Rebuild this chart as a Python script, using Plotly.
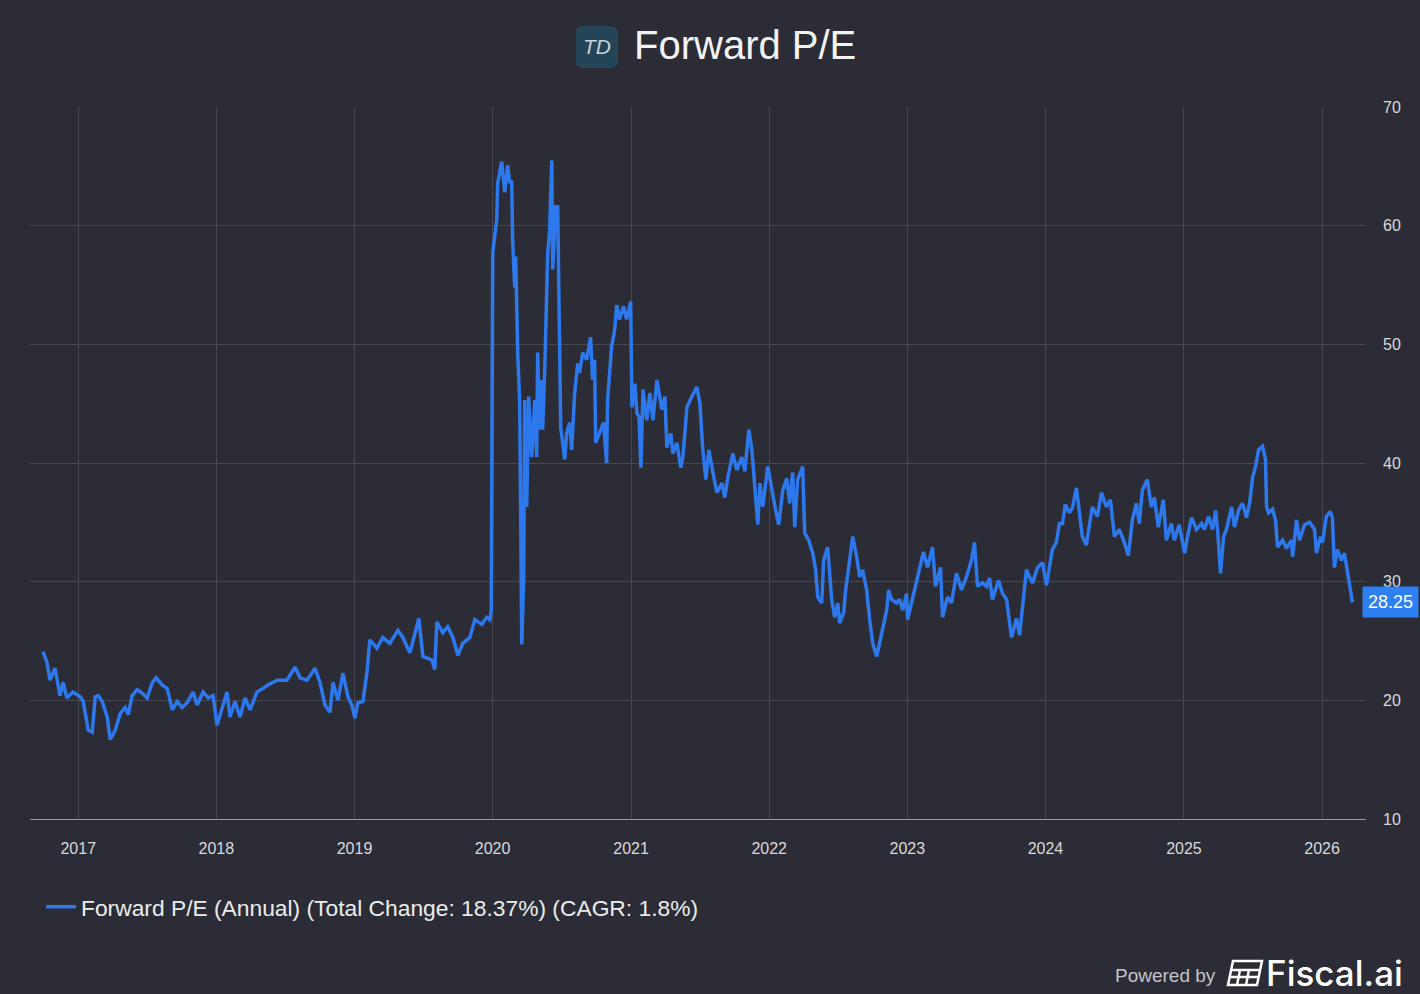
import math
import pandas as pd
import plotly.graph_objects as go

# ---- data ----
year_frac = [
    2016.747, 2016.776, 2016.798, 2016.834, 2016.870, 2016.892, 2016.920, 2016.964,
    2017.014, 2017.036, 2017.072, 2017.101, 2017.123, 2017.145, 2017.174, 2017.210,
    2017.231, 2017.268, 2017.304, 2017.340, 2017.362, 2017.390, 2017.427, 2017.463,
    2017.499, 2017.535, 2017.564, 2017.607, 2017.644, 2017.680, 2017.716, 2017.752,
    2017.788, 2017.832, 2017.860, 2017.904, 2017.940, 2017.976,
    2018.005, 2018.041, 2018.077, 2018.099, 2018.135, 2018.171, 2018.208, 2018.244,
    2018.294, 2018.338, 2018.374, 2018.439, 2018.511, 2018.569, 2018.605, 2018.656,
    2018.714, 2018.750, 2018.786, 2018.822, 2018.844, 2018.880, 2018.916, 2018.952,
    2018.981,
    2019.003, 2019.025, 2019.061, 2019.090, 2019.111, 2019.162, 2019.205, 2019.256,
    2019.314, 2019.350, 2019.401, 2019.437, 2019.466, 2019.495, 2019.560, 2019.581,
    2019.596, 2019.639, 2019.675, 2019.712, 2019.748, 2019.784, 2019.835, 2019.871,
    2019.921, 2019.957, 2019.979, 2019.990, 2019.998,
    2020.001, 2020.030, 2020.037, 2020.066, 2020.088, 2020.109, 2020.124, 2020.138,
    2020.145, 2020.160, 2020.167, 2020.182, 2020.196, 2020.211, 2020.225, 2020.232,
    2020.247, 2020.261, 2020.283, 2020.305, 2020.319, 2020.326, 2020.341, 2020.355,
    2020.362, 2020.377, 2020.399, 2020.413, 2020.428, 2020.435, 2020.456, 2020.471,
    2020.478, 2020.493, 2020.522, 2020.536, 2020.558, 2020.572, 2020.594, 2020.616,
    2020.630, 2020.652, 2020.681, 2020.709, 2020.724, 2020.738, 2020.746, 2020.775,
    2020.803, 2020.825, 2020.832, 2020.861, 2020.883, 2020.898, 2020.919, 2020.948,
    2020.970, 2020.999,
    2021.006, 2021.028, 2021.042, 2021.057, 2021.071, 2021.086, 2021.114, 2021.136,
    2021.158, 2021.187, 2021.223, 2021.245, 2021.259, 2021.288, 2021.302, 2021.331,
    2021.360, 2021.375, 2021.404, 2021.440, 2021.476, 2021.498, 2021.519, 2021.541,
    2021.563, 2021.592, 2021.621, 2021.657, 2021.678, 2021.700, 2021.736, 2021.765,
    2021.801, 2021.823, 2021.852, 2021.874, 2021.895, 2021.917, 2021.932, 2021.953,
    2021.989,
    2022.018, 2022.047, 2022.069, 2022.098, 2022.127, 2022.148, 2022.170, 2022.185,
    2022.206, 2022.242, 2022.257, 2022.286, 2022.315, 2022.336, 2022.351, 2022.380,
    2022.394, 2022.423, 2022.452, 2022.474, 2022.496, 2022.510, 2022.539, 2022.553,
    2022.575, 2022.604, 2022.633, 2022.655, 2022.676, 2022.705, 2022.727, 2022.749,
    2022.778, 2022.806, 2022.828, 2022.850, 2022.864, 2022.886, 2022.922, 2022.944,
    2022.966, 2022.994,
    2023.002, 2023.038, 2023.067, 2023.089, 2023.117, 2023.146, 2023.182, 2023.204,
    2023.240, 2023.255, 2023.291, 2023.320, 2023.356, 2023.392, 2023.428, 2023.464,
    2023.486, 2023.508, 2023.544, 2023.573, 2023.595, 2023.616, 2023.660, 2023.689,
    2023.718, 2023.754, 2023.790, 2023.812, 2023.833, 2023.862, 2023.884, 2023.906,
    2023.942, 2023.978,
    2024.007, 2024.029, 2024.050, 2024.079, 2024.101, 2024.123, 2024.144, 2024.173,
    2024.195, 2024.224, 2024.245, 2024.267, 2024.296, 2024.318, 2024.339, 2024.376,
    2024.405, 2024.441, 2024.470, 2024.499, 2024.535, 2024.571, 2024.600, 2024.629,
    2024.658, 2024.679, 2024.701, 2024.737, 2024.766, 2024.788, 2024.817, 2024.853,
    2024.875, 2024.911, 2024.932, 2024.968,
    2025.005, 2025.026, 2025.055, 2025.091, 2025.128, 2025.149, 2025.178, 2025.207,
    2025.229, 2025.243, 2025.265, 2025.287, 2025.308, 2025.345, 2025.366, 2025.395,
    2025.424, 2025.453, 2025.475, 2025.497, 2025.518, 2025.540, 2025.569, 2025.590,
    2025.598, 2025.612, 2025.641, 2025.663, 2025.677, 2025.714, 2025.742, 2025.778,
    2025.786, 2025.815, 2025.836, 2025.873, 2025.909, 2025.945, 2025.959, 2025.988,
    2026.003, 2026.031, 2026.060, 2026.075, 2026.089, 2026.111, 2026.140, 2026.162,
    2026.183, 2026.198, 2026.220,
]

forward_pe = [
    24.1, 23.2, 21.7, 22.7, 20.4, 21.5, 20.2, 20.7,
    20.3, 19.9, 17.5, 17.3, 20.3, 20.4, 19.9, 18.6,
    16.7, 17.5, 18.9, 19.4, 18.8, 20.4, 20.9, 20.6,
    20.2, 21.5, 21.9, 21.3, 21.0, 19.2, 19.9, 19.4,
    19.8, 20.7, 19.6, 20.7, 20.2, 20.4,
    17.9, 19.4, 20.7, 18.6, 19.9, 18.6, 20.2, 19.2,
    20.7, 21.0, 21.3, 21.7, 21.7, 22.8, 21.9, 21.7,
    22.7, 21.5, 19.6, 19.0, 21.5, 20.0, 22.3, 20.3,
    19.6,
    18.5, 19.8, 19.9, 22.3, 25.1, 24.4, 25.3, 24.8,
    25.9, 25.3, 24.0, 25.5, 26.9, 23.7, 23.4, 22.6,
    26.6, 25.7, 26.2, 25.3, 23.8, 24.8, 25.3, 26.8,
    26.4, 27.0, 26.8, 27.5, 56.0,
    57.7, 60.5, 63.6, 65.4, 62.8, 65.1, 63.6, 63.8,
    58.8, 54.8, 57.4, 49.2, 45.1, 24.7, 30.1, 45.3,
    36.3, 45.6, 40.5, 45.3, 40.5, 49.3, 42.8, 47.0,
    42.8, 47.8, 57.7, 59.6, 65.5, 56.3, 61.6, 61.6,
    56.0, 43.0, 40.3, 42.5, 43.4, 41.1, 45.9, 48.4,
    47.6, 49.3, 48.7, 50.6, 47.0, 48.7, 41.7, 42.5,
    43.4, 40.0, 45.3, 49.8, 51.2, 53.3, 52.1, 53.2,
    52.1, 53.6,
    44.7, 46.7, 44.2, 43.9, 39.6, 46.2, 43.6, 45.9,
    43.6, 47.0, 44.5, 45.6, 41.3, 42.5, 40.8, 41.7,
    39.6, 40.5, 44.7, 45.6, 46.4, 45.0, 41.1, 38.6,
    41.1, 39.2, 37.5, 38.3, 37.1, 38.8, 40.8, 39.4,
    40.5, 39.3, 42.8, 41.1, 38.0, 34.8, 38.3, 36.3,
    39.7,
    37.7, 36.0, 34.8, 37.7, 38.7, 36.6, 39.2, 34.6,
    38.6, 39.7, 34.1, 33.5, 32.4, 31.0, 28.7, 28.2,
    31.8, 32.9, 28.5, 27.0, 28.2, 26.5, 27.4, 29.3,
    31.2, 33.8, 32.1, 30.4, 31.0, 29.3, 26.8, 24.8,
    23.7, 25.1, 26.5, 27.6, 29.3, 28.5, 28.2, 28.5,
    27.6, 29.0,
    26.8, 28.5, 30.1, 31.0, 32.5, 31.2, 32.9, 29.6,
    31.2, 27.0, 28.7, 28.2, 30.7, 29.3, 30.4, 31.8,
    33.3, 29.6, 29.9, 29.6, 30.3, 28.5, 30.1, 29.0,
    28.5, 25.3, 26.9, 25.5, 27.6, 31.0, 30.4, 29.9,
    31.2, 31.6,
    29.7, 31.2, 32.7, 33.3, 34.9, 34.9, 36.5, 35.8,
    36.2, 37.9, 35.8, 33.8, 33.1, 34.6, 36.3, 35.5,
    37.5, 36.3, 36.9, 33.8, 34.4, 33.3, 32.2, 35.2,
    36.6, 34.9, 37.7, 38.6, 36.3, 37.1, 34.6, 36.9,
    33.5, 34.9, 33.5, 34.8,
    32.4, 33.8, 35.4, 34.4, 34.9, 34.4, 35.5, 34.4,
    36.0, 34.4, 30.7, 33.8, 34.4, 36.3, 34.6, 36.0,
    36.6, 35.4, 36.6, 38.8, 39.7, 41.1, 41.4, 40.3,
    36.3, 35.8, 36.1, 35.2, 32.9, 33.5, 32.8, 33.5,
    32.1, 35.2, 33.5, 34.8, 35.0, 34.4, 32.4, 33.8,
    33.3, 35.5, 35.9, 35.4, 31.2, 32.7, 31.8, 32.4,
    31.0, 29.9, 28.25,
]

series_name = "Forward P/E (Annual) (Total Change: 18.37%) (CAGR: 1.8%)"
title_text = "Forward P/E"
last_label = "28.25"


def to_date(y):
    yr = int(math.floor(y))
    return pd.Timestamp(yr, 1, 1) + pd.Timedelta(days=(y - yr) * 365.25)


dates = [to_date(v) for v in year_frac]

BG = "#2b2c35"
BLUE = "#2c78ec"
GRID = "#474852"
TXT = "#d9d9db"

fig = go.Figure()
fig.add_trace(go.Scatter(
    x=dates, y=forward_pe, mode="lines", name=series_name,
    line=dict(color=BLUE, width=3.5),
))

# geometry of plot area in pixels
L, R, T, B = 30, 1366, 107, 819
W, H = R - L, B - T


def px(x):
    return (x - L) / W


def py(y):
    return (B - y) / H


fig.update_layout(
    width=1420, height=994,
    paper_bgcolor=BG, plot_bgcolor=BG,
    margin=dict(l=L, r=1420 - R, t=T, b=994 - B),
    font=dict(family="Liberation Sans, Arial, sans-serif", color=TXT),
    showlegend=True,
    legend=dict(
        x=px(41), y=py(907), xanchor="left", yanchor="middle",
        orientation="h", bgcolor="rgba(0,0,0,0)",
        font=dict(size=22.8, color="#ececec"),
        itemwidth=30,
    ),
    xaxis=dict(
        type="date",
        range=[to_date(2016.653), to_date(2026.318)],
        tick0="2017-01-01", dtick="M12", tickformat="%Y",
        showgrid=True, gridcolor=GRID, gridwidth=1,
        showline=True, linecolor="#9a9aa0", linewidth=1,
        ticks="", ticklabelstandoff=15,
        tickfont=dict(size=16, color=TXT),
        zeroline=False, fixedrange=True,
    ),
    yaxis=dict(
        range=[10, 70], dtick=10, tick0=10, side="right",
        showgrid=True, gridcolor=GRID, gridwidth=1,
        showline=False, ticks="", ticklabelstandoff=16,
        tickfont=dict(size=16, color=TXT),
        zeroline=False, fixedrange=True,
    ),
)

# title with logo
x0, x1 = px(576), px(618)
y0, y1 = py(68), py(26)
rx, ry = 7 / W, 7 / H
logo_path = (
    f"M{x0+rx},{y0} L{x1-rx},{y0} Q{x1},{y0} {x1},{y0+ry} L{x1},{y1-ry} "
    f"Q{x1},{y1} {x1-rx},{y1} L{x0+rx},{y1} Q{x0},{y1} {x0},{y1-ry} "
    f"L{x0},{y0+ry} Q{x0},{y0} {x0+rx},{y0} Z"
)
fig.add_shape(type="path", path=logo_path, xref="paper", yref="paper",
              fillcolor="#244457", line=dict(width=0), layer="above")
fig.add_annotation(x=(x0 + x1) / 2, y=(y0 + y1) / 2, xref="paper", yref="paper",
                   text="<i>TD</i>", showarrow=False,
                   font=dict(size=21, color="#c9d1d8", family="Liberation Sans"),
                   xanchor="center", yanchor="middle")
fig.add_annotation(x=px(632), y=py(45), xref="paper", yref="paper",
                   text=title_text, showarrow=False, xanchor="left", yanchor="middle",
                   font=dict(size=40, color="#f4f4f4", family="Liberation Sans"))

# last value label
fig.add_annotation(x=px(1362), y=forward_pe[-1], xref="paper", yref="y",
                   text=last_label, showarrow=False, xanchor="left", yanchor="middle",
                   bgcolor="#2d7ff2", borderpad=5,
                   font=dict(size=18, color="#ffffff", family="Liberation Sans"))

# footer
fig.add_annotation(x=px(1218), y=py(975), xref="paper", yref="paper",
                   text="Powered by", showarrow=False, xanchor="right", yanchor="middle",
                   font=dict(size=19, color="#c4c4c8", family="Liberation Sans"))
fig.add_annotation(x=px(1405), y=py(973), xref="paper", yref="paper",
                   text="Fiscal.ai", showarrow=False, xanchor="right", yanchor="middle",
                   font=dict(size=35, color="#ffffff", family="Inter", weight=500))


def P(x, y):
    return f"{px(x)},{py(y)}"


# footer icon (slanted calculator-like glyph)
icon = (f"M{P(1233,961)} L{P(1262,961)} L{P(1257,985)} L{P(1228,985)} Z "
        f"M{P(1231,970)} L{P(1259,970)} "
        f"M{P(1230,977)} L{P(1258,977)} "
        f"M{P(1240,970)} L{P(1237,985)} "
        f"M{P(1249,970)} L{P(1246,985)}")
fig.add_shape(type="path", path=icon, xref="paper", yref="paper",
              line=dict(color="#ffffff", width=2.5), fillcolor="rgba(0,0,0,0)")

fig.write_html(
    "out.html",
    config={"displayModeBar": False},
    post_script="document.body.style.margin='0';document.body.style.background='#2b2c35';",
)
